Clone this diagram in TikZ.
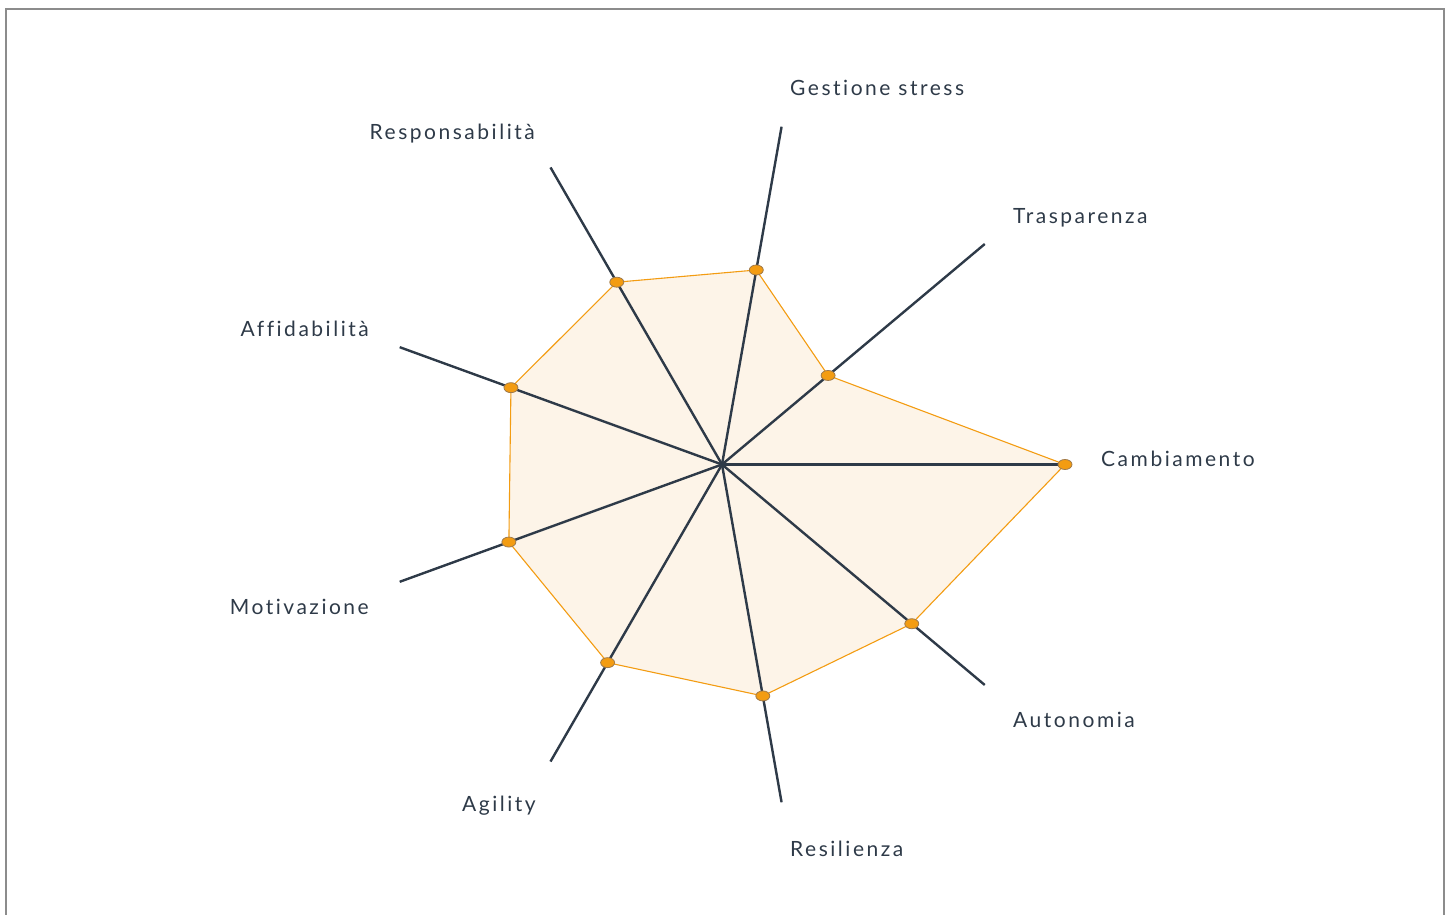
\documentclass[tikz,border=0pt]{standalone}
\usepackage{fontspec}
\setmainfont{Lato}[LetterSpace=12, Ligatures={NoCommon}]
\usetikzlibrary{shapes.geometric,calc}

\definecolor{axiscol}{HTML}{2E3A48}
\definecolor{fillcol}{HTML}{FDF4E8}
\definecolor{linecol}{HTML}{F39C12}
\definecolor{dotline}{HTML}{A07A4A}
\definecolor{framecol}{HTML}{8C8C8C}

\begin{document}
\begin{tikzpicture}[x=1pt,y=1pt,
  axis/.style={draw=axiscol, line width=2.4pt},
  poly/.style={draw=linecol, fill=fillcol, line width=1.1pt, line join=round},
  dot/.style={ellipse, fill=linecol, draw=dotline, line width=0.8pt, minimum width=14pt, minimum height=10pt, inner sep=0pt},
  lbl/.style={text=axiscol, font=\fontsize{21}{25}\selectfont, inner sep=0pt}]

\useasboundingbox (0,0) rectangle (1453,915);

% outer frame, bottom edge runs off the page
\draw[framecol, line width=2.4pt] (6,-10) -- (6,906) -- (1444,906) -- (1444,-10);

\coordinate (o) at (722,450.5);

% value points
\foreach \ang/\val/\nm in {0/343/cam, 40/138.5/tra, 80/197.5/ges, 120/210.5/res,
    160/224.6/aff, 200/226.8/mot, 240/228.8/agi, 280/235/ril, 320/247.7/aut} {
    \coordinate (\nm) at ($(o)+(\ang:\val)$);
}

% the filled shape
\draw[poly] (cam) -- (tra) -- (ges) -- (res) -- (aff) -- (mot) -- (agi) -- (ril) -- (aut) -- cycle;

% axes and labels
\foreach \ang/\nm/\txt/\lx/\ly/\anc in {
    0/cam/Cambiamento/1101/448/base west,
    40/tra/Trasparenza/1013/691/base west,
    80/ges/Gestione stress/790/819/base west,
    120/res/Responsabilità/535/775/base east,
    160/aff/Affidabilità/369/578/base east,
    200/mot/Motivazione/369/300/base east,
    240/agi/Agility/536/103/base east,
    280/ril/Resilienza/790/58/base west,
    320/aut/Autonomia/1013/187/base west} {
    \coordinate (\nm-end) at ($(o)+(\ang:343)$);
    \draw[axis] (o) -- (\nm-end);
    \node[lbl, anchor=\anc] (\nm-lbl) at (\lx,\ly) {\txt};
}

% the dots sit on top of the axes
\foreach \nm in {cam,tra,ges,res,aff,mot,agi,ril,aut}
    \node[dot] (\nm-dot) at (\nm) {};
\end{tikzpicture}
\end{document}
